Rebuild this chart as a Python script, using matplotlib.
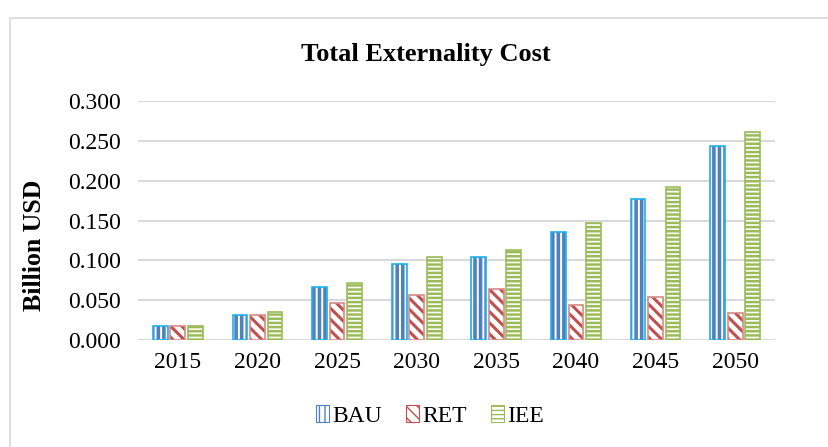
import matplotlib.pyplot as plt
import matplotlib.patches as mpatches
import numpy as np

years = ["2015", "2020", "2025", "2030", "2035", "2040", "2045", "2050"]
bau = [0.018, 0.031, 0.066, 0.096, 0.104, 0.135, 0.177, 0.244]
ret = [0.018, 0.031, 0.047, 0.056, 0.064, 0.044, 0.054, 0.034]
iee = [0.018, 0.035, 0.072, 0.104, 0.113, 0.147, 0.192, 0.261]
y_ticks = [0.0, 0.05, 0.1, 0.15, 0.2, 0.25, 0.3]

plt.rcParams['font.family'] = ['Liberation Serif', 'DejaVu Serif']

fig = plt.figure(figsize=(8.29, 4.47), dpi=100)
# chart frame
fig.patches.append(mpatches.Rectangle((10 / 829, -0.1), 1.0, 1 - 18 / 447 + 0.1,
                                      transform=fig.transFigure, fill=False,
                                      edgecolor="#d9d9d9", linewidth=1.2))

ax = fig.add_axes([138 / 829, 1 - 340 / 447, (775 - 138) / 829, (340 - 101) / 447])

x = np.arange(len(years))
w = 0.185
step = 0.22
# values, name, hatch, hatch colour, outline colour, hatch line width
series = [
    (bau, "BAU", "|||", "#4f81bd", "#1fb0ea", 2.6),
    (ret, "RET", "\\\\\\", "#c0504d", "#d88a88", 2.2),
    (iee, "IEE", "----", "#9bbb59", "#9bbb59", 1.8),
]
handles = []
for i, (vals, name, hatch, hc, ec, hlw) in enumerate(series):
    pos = x + (i - 1) * step
    with plt.rc_context({'hatch.linewidth': hlw}):
        ax.bar(pos, vals, w, color="white", hatch=hatch, edgecolor=hc, linewidth=0, zorder=2)
        ax.bar(pos, vals, w, fill=False, edgecolor=ec, linewidth=1.2, zorder=3)
        handles.append(mpatches.Patch(facecolor="white", hatch=hatch, edgecolor=hc,
                                      linewidth=0.8, label=name))

ax.set_xlim(-0.5, len(years) - 0.5)
ax.set_ylim(0, 0.3)
ax.set_yticks(y_ticks)
ax.set_yticklabels([f"{v:.3f}" for v in y_ticks])
ax.set_xticks(x)
ax.set_xticklabels(years)
ax.tick_params(length=0, labelsize=17, pad=12)
ax.tick_params(axis="x", pad=9)
ax.yaxis.grid(True, color="#d9d9d9", linewidth=1.5, zorder=0)
ax.set_axisbelow(True)
for s in ax.spines.values():
    s.set_visible(False)

fig.text(426 / 829, 1 - 55 / 447, "Total Externality Cost", ha="center", va="center",
         fontsize=19, fontweight="bold")
fig.text(35 / 829, 1 - 245 / 447, "Billion USD", ha="center", va="center",
         rotation=90, fontsize=18.5, fontweight="bold")

fig.legend(handles=handles, loc="center", bbox_to_anchor=(430 / 829, 1 - 416 / 447),
           ncol=3, frameon=False, fontsize=17, handlelength=0.55, handleheight=0.75,
           handletextpad=0.15, columnspacing=1.0)

fig.savefig("out.png", dpi=100)
